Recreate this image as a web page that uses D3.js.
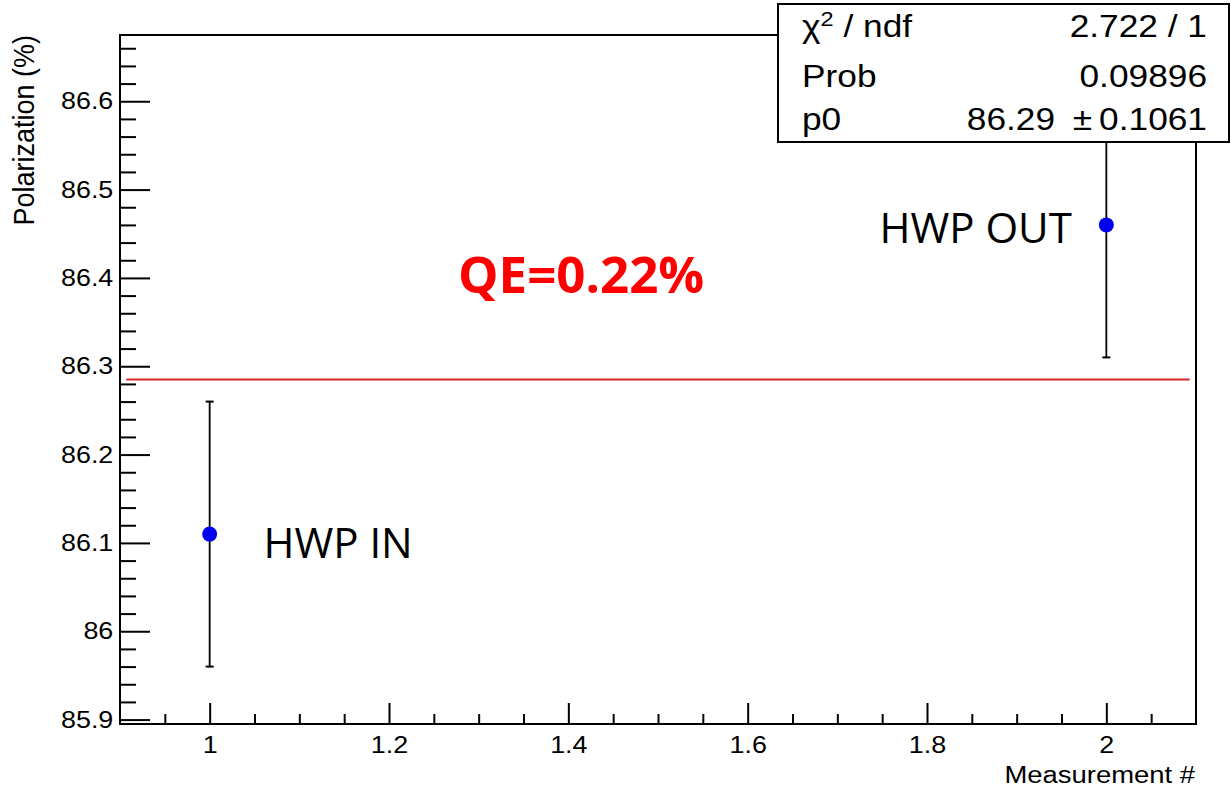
<!DOCTYPE html>
<meta charset="utf-8">
<head>
<script src="https://d3js.org/d3.v7.min.js"></script>
<style>
  body { margin: 0; background: #fff; }
  svg { display: block; }
  .root-text { font-family: "Liberation Sans", Arial, sans-serif; fill: #000; }
</style>
</head>
<body>
<div id="my_dataviz"></div>
<script>

// data
var measurements = [1, 2];
var polarization = [86.11, 86.46];
var polErrors    = [0.15, 0.15];
var pointLabels  = ["HWP IN", "HWP OUT"];
var labelPos     = [[1.06, 86.083], [1.747, 86.439]];   // where the labels sit, in data units

var fitP0    = 86.285;
var fitRange = [0.907, 2.093];

var xMajorTicks = [1, 1.2, 1.4, 1.6, 1.8, 2];
var yMajorTicks = [85.9, 86, 86.1, 86.2, 86.3, 86.4, 86.5, 86.6];

var statsNames  = ["ndf", "Prob", "p0"];
var statsValues = ["2.722 / 1", "0.09896", "86.29\u2002\u00b1\u20090.1061"];

var qeText = "QE=0.22%";
var qePos  = [1.277, 86.383];

// the original looks stretched horizontally a bit
var sx = 1.12;

// set the dimensions and margins of the graph
var W = 1231, H = 790;
var margin = {top: 35, right: 35, bottom: 66, left: 120},
    width = W - margin.left - margin.right,
    height = H - margin.top - margin.bottom;

var svg = d3.select("#my_dataviz")
  .append("svg")
    .attr("width", W)
    .attr("height", H);

svg.append("rect").attr("width", W).attr("height", H).attr("fill", "#fff");

var g = svg.append("g")
    .attr("transform", "translate(" + margin.left + "," + margin.top + ")");

var x = d3.scaleLinear().domain([0.9, 2.1]).range([0, width]);
var y = d3.scaleLinear().domain([85.895, 86.675]).range([height, 0]);

var fmt = function(d) { return String(+d.toFixed(2)); };

// minor ticks
var xMinor = d3.range(0.95, 2.1, 0.05).map(function(d) { return +d.toFixed(2); })
  .filter(function(d) { return xMajorTicks.indexOf(d) < 0; });
var yMinor = d3.range(85.9, 86.675, 0.02).map(function(d) { return +d.toFixed(2); })
  .filter(function(d) { return yMajorTicks.indexOf(d) < 0; });

g.append("g")
  .attr("transform", "translate(0," + height + ")")
  .call(d3.axisBottom(x).tickValues(xMinor).tickSize(-10).tickFormat(""));
var xAxis = g.append("g")
  .attr("transform", "translate(0," + height + ")")
  .call(d3.axisBottom(x).tickValues(xMajorTicks).tickSize(-21).tickPadding(12).tickFormat(fmt));

g.append("g")
  .call(d3.axisLeft(y).tickValues(yMinor).tickSize(-16).tickFormat(""));
var yAxis = g.append("g")
  .call(d3.axisLeft(y).tickValues(yMajorTicks).tickSize(-30).tickPadding(6).tickFormat(fmt));

g.selectAll(".domain").remove();
g.selectAll(".tick line").attr("stroke", "#000").attr("stroke-width", 2);
[xAxis, yAxis].forEach(function(a) {
  a.selectAll("text")
    .attr("class", "root-text")
    .style("font-size", "24px")
    .attr("fill", "#000")
    .attr("transform", "scale(" + sx + ",1)");
});

// frame
g.append("rect")
  .attr("width", width).attr("height", height)
  .attr("fill", "none").attr("stroke", "#000").attr("stroke-width", 2);

// axis titles
svg.append("text")
  .attr("class", "root-text")
  .attr("transform", "translate(1195,783) scale(" + sx + ",1)")
  .style("text-anchor", "end")
  .style("font-size", "24.5px")
  .text("Measurement #");

svg.append("text")
  .attr("class", "root-text")
  .attr("transform", "translate(34,35) scale(" + sx + ",1) rotate(-90)")
  .style("text-anchor", "end")
  .style("font-size", "27px")
  .text("Polarization (%)");

// fit line
g.append("line")
  .attr("x1", x(fitRange[0])).attr("x2", x(fitRange[1]))
  .attr("y1", y(fitP0)).attr("y2", y(fitP0))
  .attr("stroke", "#d42a2a").attr("stroke-width", 2);

// error bars
var pts = measurements.map(function(m, i) {
  return {x: m, y: polarization[i], e: polErrors[i]};
});
var bars = g.selectAll(".err").data(pts).enter().append("g").attr("class", "err");
bars.append("line")
  .attr("x1", function(d) { return x(d.x); }).attr("x2", function(d) { return x(d.x); })
  .attr("y1", function(d) { return y(d.y - d.e); }).attr("y2", function(d) { return y(d.y + d.e); })
  .attr("stroke", "#000").attr("stroke-width", 1.8);
[-1, 1].forEach(function(s) {
  bars.append("line")
    .attr("x1", function(d) { return x(d.x) - 4; }).attr("x2", function(d) { return x(d.x) + 4; })
    .attr("y1", function(d) { return y(d.y + s * d.e); }).attr("y2", function(d) { return y(d.y + s * d.e); })
    .attr("stroke", "#000").attr("stroke-width", 2);
});

// markers
g.selectAll("circle")
  .data(pts)
  .enter()
  .append("circle")
    .attr("cx", function(d) { return x(d.x); })
    .attr("cy", function(d) { return y(d.y); })
    .attr("r", 7.5)
    .style("fill", "#0000ee");

// annotations
g.selectAll(".plabel")
  .data(pointLabels)
  .enter()
  .append("text")
    .attr("x", function(d, i) { return x(labelPos[i][0]); })
    .attr("y", function(d, i) { return y(labelPos[i][1]); })
    .style("font-family", "'Open Sans', sans-serif")
    .style("font-size", "42px")
    .attr("fill", "#000")
    .text(function(d) { return d; });

g.append("text")
  .attr("x", x(qePos[0]))
  .attr("y", y(qePos[1]))
  .style("font-family", "'Open Sans', sans-serif")
  .style("font-weight", "bold")
  .style("font-size", "51px")
  .attr("fill", "#ff0000")
  .text(qeText);

// stats box
svg.append("rect")
  .attr("x", 778).attr("y", 4)
  .attr("width", 451).attr("height", 138)
  .attr("fill", "#fff").attr("stroke", "#000").attr("stroke-width", 2);

var rowY = [37, 87, 130];
var chi = svg.append("text")
  .attr("class", "root-text")
  .attr("transform", "translate(802," + rowY[0] + ") scale(" + sx + ",1)")
  .style("font-size", "31.5px");
chi.append("tspan").text("\u03c7");
chi.append("tspan").attr("baseline-shift", "super").style("font-size", "21px").text("2");
chi.append("tspan").text(" / " + statsNames[0]);

statsNames.slice(1).forEach(function(n, i) {
  svg.append("text")
    .attr("class", "root-text")
    .attr("transform", "translate(802," + rowY[i + 1] + ") scale(" + sx + ",1)")
    .style("font-size", "31.5px")
    .text(n);
});
statsValues.forEach(function(v, i) {
  svg.append("text")
    .attr("class", "root-text")
    .attr("transform", "translate(1207," + rowY[i] + ") scale(" + sx + ",1)")
    .style("font-size", "31.5px")
    .style("text-anchor", "end")
    .text(v);
});

</script>
</body>
